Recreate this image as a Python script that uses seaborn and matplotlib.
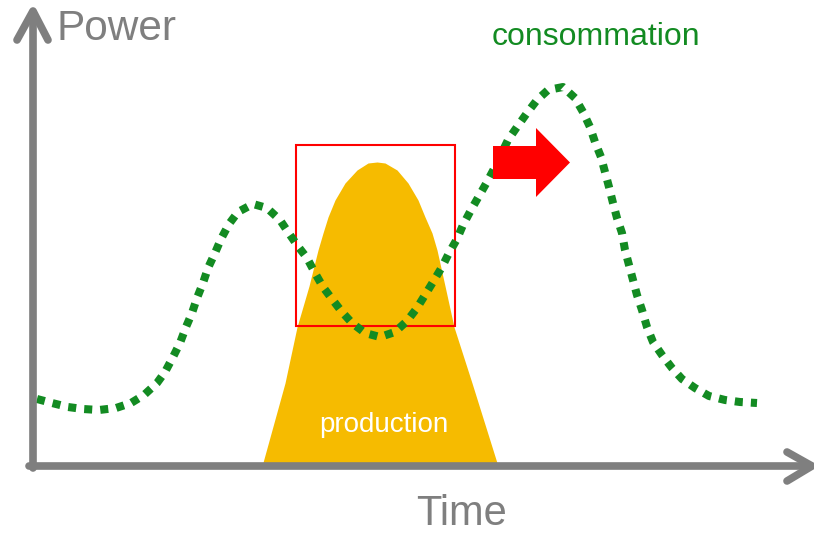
import seaborn as sns
import matplotlib.pyplot as plt
from matplotlib.patches import Rectangle, FancyArrow

# consumption curve (time, power)
cons_time = [4, 19, 35, 50, 66, 83, 98, 111, 124, 132, 140, 147, 153, 159, 164, 170,
             175, 182, 188, 196, 205, 220, 234, 247, 255, 264, 274, 282, 290, 299, 309,
             319, 332, 347, 362, 374, 384, 392, 400, 409, 416, 424, 430, 438, 446, 454,
             462, 475, 484, 494, 504, 515, 530, 542, 550, 557, 562, 568, 572, 576, 580,
             584, 589, 592, 596, 600, 604, 609, 614, 620, 629, 639, 649, 662, 676, 692,
             707, 724]
cons_power = [67, 63, 59, 57, 56, 58, 63, 71, 83, 94, 109, 123, 139, 153, 168, 183,
              198, 213, 227, 242, 254, 262, 258, 246, 234, 221, 208, 193, 179, 167, 154,
              143, 133, 129, 134, 145, 158, 171, 184, 199, 213, 227, 241, 256, 270, 284,
              299, 326, 339, 353, 366, 376, 379, 368, 354, 339, 324, 309, 294, 279, 263,
              248, 233, 216, 201, 186, 171, 156, 139, 124, 111, 98, 87, 78, 70, 66,
              64, 63]

# production bump
prod_time = [229, 252, 264, 276, 285, 290, 295, 302, 312, 324, 335, 344,
             352, 364, 375, 385, 392, 399, 404, 412, 421, 439, 465]
prod_power = [0, 83, 139, 180, 216, 233, 249, 266, 283, 296, 303, 304,
              303, 296, 283, 266, 249, 233, 216, 180, 139, 83, 0]

grey = '#7f7f7f'
green = '#138b22'

sns.set_style('white')
plt.rcParams['font.family'] = ['Liberation Sans', 'DejaVu Sans']

fig = plt.figure(figsize = (8.14, 5.33), dpi = 100)
ax = fig.add_axes([0, 0, 1, 1])

ax.fill_between(prod_time, prod_power, 0, color = '#f6bb00', linewidth = 0, zorder = 1)

# highlight box
ax.add_patch(Rectangle((263, 140), 159, 181, fill = False, edgecolor = 'red', linewidth = 1.5, zorder = 2))

sns.lineplot(
    x = cons_time,
    y = cons_power,
    sort = False,
    estimator = None,
    color = green,
    linewidth = 5.8,
    linestyle = (0, (1, 1)),
    ax = ax,
    zorder = 3
)

# shift arrow
ax.add_patch(FancyArrow(460, 303.5, 77, 0, width = 33, head_width = 69, head_length = 34,
                        length_includes_head = True, color = 'red', linewidth = 0, zorder = 4))

# hand-drawn axes with chevron heads
kw = dict(color = grey, linewidth = 5.5, solid_capstyle = 'round', solid_joinstyle = 'round', zorder = 5)
ax.plot([0, 0], [-2, 454], **kw)
ax.plot([-16, 0, 15], [426, 455, 426], **kw)
ax.plot([-4, 778], [0, 0], **kw)
ax.plot([754, 779, 754], [14, 0, -15], **kw)

ax.text(24, 426, 'Power', color = grey, fontsize = 30.5, va = 'baseline', ha = 'left')
ax.text(383, -59, 'Time', color = grey, fontsize = 30, va = 'baseline', ha = 'left')
ax.text(459, 421, 'consommation', color = green, fontsize = 23, va = 'baseline', ha = 'left')
ax.text(286, 34, 'production', color = 'white', fontsize = 20, va = 'baseline', ha = 'left', zorder = 6)

ax.set_xlim(-33, 781)
ax.set_ylim(-67, 466)
ax.axis('off')

fig.savefig('out.png', dpi = 100)
